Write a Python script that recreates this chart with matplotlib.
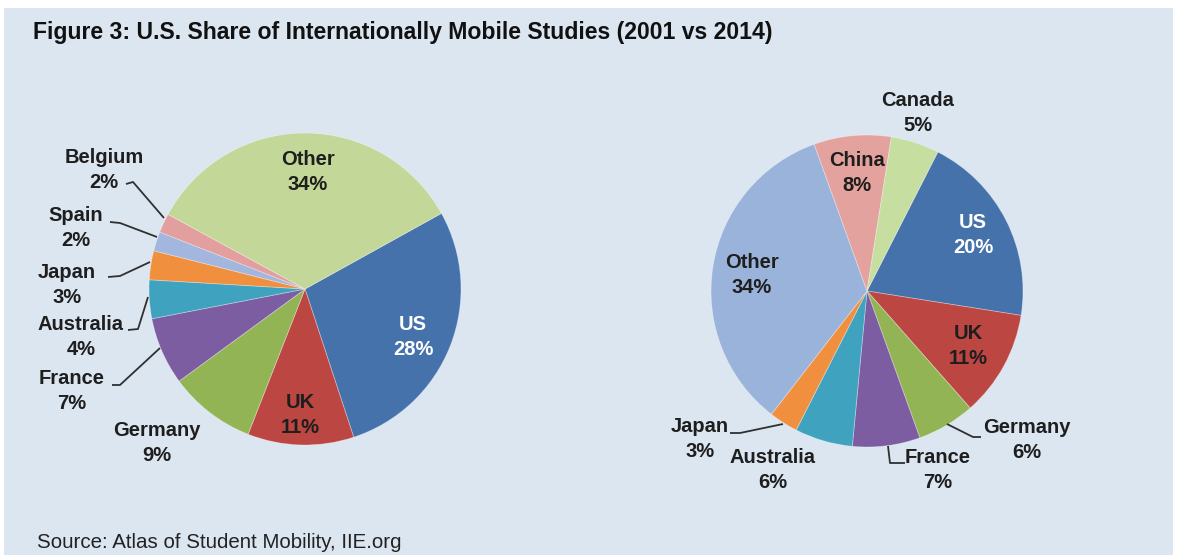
import matplotlib
matplotlib.use("Agg")
import matplotlib.pyplot as plt
import numpy as np
from matplotlib.patches import Rectangle

plt.rcParams['font.family'] = ['Liberation Sans', 'DejaVu Sans']

# ---- data ----
title = "Figure 3: U.S. Share of Internationally Mobile Studies (2001 vs 2014)"
source = "Source: Atlas of Student Mobility, IIE.org"

left_labels = ["US", "UK", "Germany", "France", "Australia", "Japan", "Spain", "Belgium", "Other"]
left_values = [28, 11, 9, 7, 4, 3, 2, 2, 34]
left_colors = ["#4672AC", "#BC4642", "#93B455", "#7C5DA2", "#3FA3BF", "#F08F3E", "#A2B6DE", "#E39E9E", "#C3D898"]

right_labels = ["US", "UK", "Germany", "France", "Australia", "Japan", "Other", "China", "Canada"]
right_values = [20, 11, 6, 7, 6, 3, 34, 8, 5]
right_colors = ["#4672AC", "#BC4642", "#93B455", "#7C5DA2", "#3FA3BF", "#F08F3E", "#9AB3DA", "#E4A29E", "#C6DEA0"]

W, H = 1181, 555
fig = plt.figure(figsize=(W / 100, H / 100), dpi=100)
fig.patch.set_facecolor("white")
ax = fig.add_axes([0, 0, 1, 1])

ax.add_patch(Rectangle((4, 0), W - 12, H - 8, facecolor="#DCE6F1", edgecolor="none", zorder=0))

def Y(y):
    return H - y

R = 156
LC = (305, Y(289))
RC = (867, Y(291))

def draw_pie(values, colors, center, start):
    wedges, _ = ax.pie(values, colors=colors, startangle=start, counterclock=False,
                       center=center, radius=R, frame=True,
                       wedgeprops=dict(edgecolor=(1, 1, 1, 0.35), linewidth=0.6))
    return wedges

lw = draw_pie(left_values, left_colors, LC, 29)
rw = draw_pie(right_values, right_colors, RC, 63)
ax.set_xlim(0, W)
ax.set_ylim(0, H)
ax.set_aspect("equal")
ax.axis("off")

FS = 14.5
DARK = "#1E1E1E"

def put(text, x, y, color=DARK, ha="center"):
    ax.text(x, Y(y), text, ha=ha, va="center", fontsize=FS, fontweight="bold",
            color=color, linespacing=1.35, zorder=5)

def leader(pts):
    xs = [p[0] for p in pts]
    ys = [Y(p[1]) for p in pts]
    ax.plot(xs, ys, color="#303030", lw=1.3, zorder=4, solid_capstyle="butt",
            solid_joinstyle="round")

# ---- left pie labels ----
lv = dict(zip(left_labels, left_values))
put(f"Other\n{lv['Other']}%", 308, 172)
put(f"US\n{lv['US']}%", 413, 337, color="white")
put(f"UK\n{lv['UK']}%", 300, 415)
put(f"Germany\n{lv['Germany']}%", 157, 443)
put(f"France\n{lv['France']}%", 72, 391)
put(f"Australia\n{lv['Australia']}%", 81, 337)
put(f"Japan\n{lv['Japan']}%", 67, 285)
put(f"Spain\n{lv['Spain']}%", 76, 228)
put(f"Belgium\n{lv['Belgium']}%", 104, 170)
leader([(126, 184), (133, 182), (164, 218)])
leader([(110, 222), (120, 223), (157, 237)])
leader([(108, 277), (120, 276), (150, 262)])
leader([(128, 330), (138, 329), (148, 297)])
leader([(112, 385), (120, 385), (160, 348)])

# ---- right pie labels ----
rv = dict(zip(right_labels, right_values))
put(f"Canada\n{rv['Canada']}%", 918, 113)
put(f"China\n{rv['China']}%", 857, 173)
put(f"US\n{rv['US']}%", 973, 235, color="white")
put(f"Other\n{rv['Other']}%", 752, 275)
put(f"UK\n{rv['UK']}%", 968, 346)
put(f"Germany\n{rv['Germany']}%", 1027, 440)
put(f"France\n{rv['France']}%", 938, 470)
put(f"Australia\n{rv['Australia']}%", 773, 470)
put(f"Japan\n{rv['Japan']}%", 700, 439)
leader([(730, 433), (740, 433), (783, 424)])
leader([(981, 437), (973, 437), (947, 424)])
leader([(905, 463), (890, 463), (888, 446)])

# ---- title and source ----
ax.text(33, Y(33), title, ha="left", va="center", fontsize=16.6, fontweight="bold", color="#111111")
ax.text(37, Y(543), source, ha="left", va="center", fontsize=14.8, color="#222222")

fig.savefig("out.png", dpi=100, facecolor="white")
